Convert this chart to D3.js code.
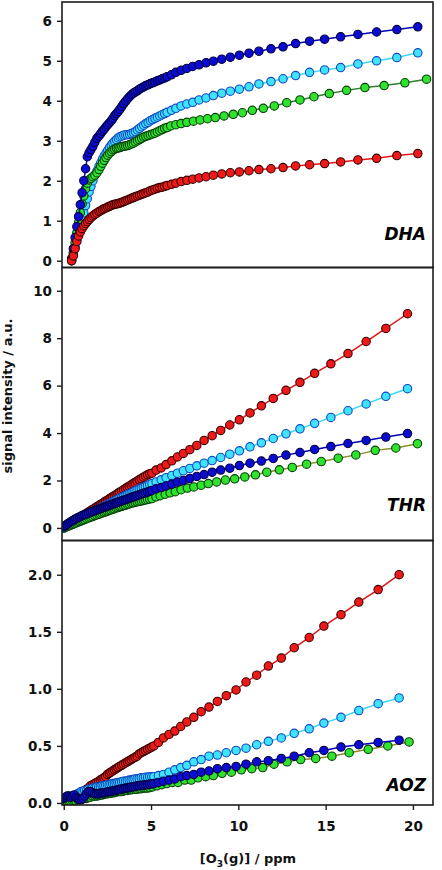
<!DOCTYPE html>
<html><head><meta charset="utf-8">
<script src="https://cdn.jsdelivr.net/npm/d3@7"></script>
<style>html,body{margin:0;padding:0;background:#fff;} svg{display:block;}</style>
</head><body>
<svg id="chart" width="442" height="870"></svg>
<script>
// ---------- DATA ----------
// DHA panel
const xDHA = [0.45,0.55,0.65,0.75,0.85,0.95,1.05,1.15,1.25,1.35,1.45,1.56,1.67,1.78,1.9,
  2.02,2.12,2.22,2.32,2.42,2.52,2.62,2.72,2.82,2.92,3.02,3.12,3.22,3.33,3.44,3.55,3.66,3.77,3.88,3.99,4.1,4.22,4.34,4.46,4.58,4.7,4.83,4.96,5.09,5.22,5.36,5.5,5.64,5.78,5.92,
  6.17,6.42,6.72,7.05,7.39,7.75,8.15,8.57,9.05,9.54,10.06,10.61,11.18,11.87,12.56,13.28,14.08,14.94,15.86,16.85,17.92,19.08,20.28];
const xDHAGreen = [0.45,0.55,0.65,0.75,0.85,0.95,1.05,1.15,1.25,1.35,1.45,1.56,1.67,1.78,1.9,
  2.02,2.12,2.22,2.32,2.42,2.52,2.62,2.72,2.82,2.92,3.02,3.12,3.22,3.33,3.44,3.55,3.66,3.77,3.88,3.99,4.1,4.22,4.34,4.46,4.58,4.7,4.83,4.96,5.09,5.22,5.36,5.5,5.64,5.78,5.92,
  6.13,6.42,6.72,7.05,7.43,7.81,8.23,8.68,9.18,9.71,10.23,10.8,11.43,12.06,12.77,13.53,14.33,15.21,16.2,17.25,18.35,19.54,20.78];
const dhaBlue = [0.05,0.3,0.58,0.85,1.1,1.4,1.7,2.0,2.3,2.6,2.7,2.78,2.86,2.96,3.06,
  3.12,3.18,3.24,3.29,3.35,3.4,3.45,3.5,3.56,3.63,3.68,3.73,3.79,3.86,3.93,3.99,4.05,4.1,4.15,4.19,4.22,4.25,4.29,4.32,4.35,4.38,4.4,4.43,4.45,4.47,4.5,4.52,4.55,4.57,4.6,
  4.65,4.71,4.76,4.81,4.86,4.9,4.95,4.99,5.04,5.09,5.14,5.19,5.24,5.3,5.35,5.43,5.49,5.54,5.6,5.66,5.72,5.78,5.85];
const dhaCyan = [0.0,0.18,0.35,0.52,0.68,0.86,1.02,1.2,1.38,1.55,1.72,1.86,2.0,2.14,2.24,
  2.36,2.45,2.54,2.62,2.69,2.76,2.83,2.89,2.94,2.99,3.03,3.07,3.1,3.12,3.14,3.15,3.15,3.16,3.18,3.2,3.23,3.27,3.31,3.35,3.39,3.43,3.46,3.5,3.53,3.56,3.59,3.62,3.65,3.68,3.71,
  3.76,3.81,3.87,3.92,3.96,4.02,4.07,4.13,4.19,4.24,4.29,4.35,4.42,4.48,4.55,4.63,4.71,4.77,4.83,4.92,5.0,5.08,5.2];
const dhaGreen = [0.0,0.2,0.45,0.7,0.95,1.2,1.42,1.62,1.8,1.94,2.02,2.06,2.1,2.14,2.2,
  2.28,2.36,2.44,2.51,2.58,2.64,2.69,2.73,2.77,2.79,2.81,2.82,2.83,2.85,2.86,2.87,2.88,2.9,2.92,2.94,2.97,3.0,3.03,3.06,3.09,3.11,3.13,3.15,3.17,3.19,3.22,3.25,3.28,3.31,3.33,
  3.37,3.4,3.43,3.46,3.49,3.52,3.55,3.58,3.62,3.66,3.7,3.76,3.81,3.87,3.95,4.02,4.1,4.18,4.26,4.33,4.38,4.45,4.54];
const dhaRed = [0.0,0.12,0.3,0.48,0.62,0.72,0.8,0.87,0.93,0.98,1.03,1.08,1.12,1.16,1.19,
  1.23,1.25,1.28,1.3,1.32,1.34,1.36,1.38,1.4,1.41,1.42,1.43,1.44,1.46,1.48,1.5,1.52,1.54,1.56,1.58,1.6,1.62,1.64,1.66,1.68,1.7,1.72,1.75,1.77,1.79,1.81,1.83,1.84,1.86,1.88,
  1.91,1.94,1.98,2.01,2.04,2.07,2.1,2.14,2.17,2.2,2.22,2.25,2.28,2.3,2.33,2.37,2.4,2.43,2.47,2.52,2.56,2.63,2.68];

// THR panel
const xTHR = [0,0.1,0.2,0.3,0.4,0.5,0.6,0.7,0.8,0.9,1.0,1.1,1.2,1.31,1.42,1.53,1.65,1.77,1.89,
  2.0,2.1,2.2,2.3,2.4,2.5,2.6,2.7,2.8,2.9,3.0,3.1,3.2,3.31,3.42,3.53,3.64,3.75,3.86,3.97,4.08,4.2,4.32,4.44,4.56,4.68,4.8,4.92,5.05,
  5.29,5.58,5.86,6.19,6.51,6.85,7.22,7.62,8.04,8.5,8.99,9.51,10.06,10.67,11.32,12.0,12.73,13.53,14.37,15.3,16.28,17.32,18.45,19.69];
const xTHRGreen = [0,0.1,0.2,0.3,0.4,0.5,0.6,0.7,0.8,0.9,1.0,1.1,1.2,1.31,1.42,1.53,1.65,1.77,1.89,
  2.0,2.1,2.2,2.3,2.4,2.5,2.6,2.7,2.8,2.9,3.0,3.1,3.2,3.31,3.42,3.53,3.64,3.75,3.86,3.97,4.08,4.2,4.32,4.44,4.56,4.68,4.8,4.92,5.05,
  5.28,5.52,5.81,6.09,6.39,6.72,7.08,7.45,7.87,8.28,8.76,9.26,9.79,10.37,10.98,11.63,12.35,13.09,13.91,14.75,15.72,16.73,17.84,19.02,20.26];
const thrRed = [0.0,0.05,0.09,0.14,0.19,0.24,0.28,0.33,0.38,0.42,0.47,0.52,0.56,0.62,0.67,0.72,0.78,0.83,0.89,
  0.94,0.99,1.03,1.08,1.13,1.17,1.22,1.27,1.31,1.36,1.41,1.46,1.5,1.55,1.61,1.66,1.71,1.76,1.81,1.87,1.92,1.97,2.03,2.08,2.14,2.19,2.24,2.28,2.31,
  2.44,2.53,2.67,2.83,2.99,3.14,3.3,3.48,3.69,3.89,4.11,4.34,4.56,4.85,5.15,5.46,5.8,6.14,6.52,6.92,7.35,7.86,8.41,9.03];
const thrCyan = [0.0,0.04,0.08,0.12,0.16,0.2,0.24,0.28,0.32,0.36,0.4,0.44,0.48,0.52,0.57,0.61,0.66,0.7,0.75,
  0.79,0.83,0.87,0.91,0.94,0.98,1.02,1.06,1.09,1.13,1.17,1.21,1.24,1.28,1.32,1.36,1.4,1.44,1.48,1.52,1.56,1.6,1.64,1.68,1.72,1.75,1.79,1.83,1.87,
  1.94,2.03,2.12,2.21,2.31,2.41,2.51,2.62,2.73,2.84,2.97,3.11,3.25,3.42,3.59,3.77,3.97,4.18,4.41,4.66,4.94,5.23,5.55,5.87];
const thrBlue = [0.05,0.1,0.16,0.21,0.26,0.3,0.35,0.39,0.43,0.46,0.5,0.53,0.56,0.59,0.62,0.66,0.69,0.72,0.76,
  0.79,0.81,0.84,0.87,0.89,0.92,0.95,0.98,1.0,1.03,1.06,1.08,1.11,1.14,1.17,1.19,1.22,1.25,1.28,1.31,1.34,1.37,1.4,1.43,1.46,1.48,1.51,1.55,1.58,
  1.65,1.7,1.77,1.85,1.93,2.0,2.08,2.17,2.25,2.35,2.44,2.52,2.63,2.73,2.82,2.93,3.07,3.18,3.31,3.43,3.56,3.69,3.83,3.98];
const thrGreen = [0.0,0.03,0.06,0.09,0.12,0.15,0.18,0.21,0.24,0.27,0.3,0.33,0.36,0.39,0.42,0.45,0.48,0.52,0.55,
  0.58,0.6,0.63,0.66,0.68,0.71,0.74,0.76,0.79,0.81,0.84,0.86,0.89,0.91,0.94,0.96,0.99,1.01,1.04,1.06,1.08,1.1,1.12,1.14,1.16,1.18,1.2,1.22,1.24,
  1.31,1.36,1.42,1.48,1.53,1.61,1.68,1.73,1.8,1.87,1.94,2.02,2.07,2.15,2.24,2.35,2.45,2.55,2.69,2.8,2.94,3.08,3.27,3.37,3.55];

// AOZ panel
const xAOZ = [0,0.1,0.2,0.3,0.4,0.5,0.6,0.7,0.8,0.9,1.0,1.1,1.2,1.31,1.42,1.53,1.65,1.77,1.89,
  2.0,2.1,2.2,2.3,2.4,2.5,2.6,2.7,2.8,2.9,3.0,3.1,3.2,3.31,3.42,3.53,3.64,3.75,3.86,3.97,4.08,4.2,4.32,4.44,4.56,4.68,4.8,4.92,5.04,
  5.16,5.42,5.71,6.03,6.36,6.7,7.05,7.45,7.87,8.32,8.8,9.31,9.87,10.44,11.05,11.72,12.46,13.2,14.06,14.9,15.88,16.9,18.01,19.21];
const xAOZGreen = [0,0.1,0.2,0.3,0.4,0.5,0.6,0.7,0.8,0.9,1.0,1.1,1.2,1.31,1.42,1.53,1.65,1.77,1.89,
  2.0,2.1,2.2,2.3,2.4,2.5,2.6,2.7,2.8,2.9,3.0,3.1,3.2,3.31,3.42,3.53,3.64,3.75,3.86,3.97,4.08,4.2,4.32,4.44,4.56,4.68,4.8,4.92,
  5.08,5.33,5.62,5.9,6.22,6.55,6.93,7.3,7.69,8.13,8.57,9.07,9.6,10.17,10.77,11.4,12.04,12.79,13.57,14.43,15.36,16.35,17.44,18.56,19.78];
const aozRed = [0.02,0.03,0.03,0.04,0.04,0.05,0.05,0.06,0.07,0.08,0.09,0.1,0.11,0.12,0.13,0.15,0.16,0.17,0.18,
  0.19,0.2,0.21,0.22,0.23,0.25,0.26,0.27,0.28,0.29,0.3,0.31,0.32,0.33,0.34,0.35,0.36,0.37,0.38,0.39,0.4,0.41,0.43,0.44,0.45,0.46,0.47,0.48,0.49,
  0.5,0.53,0.57,0.6,0.63,0.67,0.71,0.75,0.8,0.84,0.89,0.94,0.99,1.06,1.12,1.2,1.27,1.36,1.45,1.55,1.65,1.76,1.87,2.0];
const aozCyan = [0.03,0.03,0.04,0.04,0.05,0.05,0.06,0.07,0.08,0.09,0.1,0.1,0.11,0.11,0.12,0.12,0.13,0.13,0.14,
  0.14,0.145,0.15,0.15,0.155,0.16,0.16,0.165,0.17,0.17,0.175,0.18,0.18,0.185,0.19,0.19,0.195,0.2,0.2,0.205,0.21,0.21,0.215,0.22,0.22,0.225,0.225,0.23,0.23,
  0.23,0.24,0.25,0.27,0.29,0.31,0.33,0.36,0.38,0.41,0.42,0.44,0.46,0.48,0.51,0.54,0.57,0.61,0.65,0.7,0.75,0.81,0.87,0.92];
const aozBlue = [0.04,0.05,0.06,0.06,0.05,0.06,0.07,0.05,0.04,0.03,0.03,0.04,0.06,0.08,0.1,0.1,0.09,0.08,0.08,
  0.08,0.085,0.09,0.09,0.09,0.095,0.1,0.1,0.105,0.11,0.11,0.115,0.12,0.12,0.125,0.13,0.13,0.135,0.14,0.14,0.145,0.15,0.15,0.155,0.155,0.16,0.16,0.165,0.165,
  0.17,0.18,0.19,0.2,0.21,0.23,0.24,0.25,0.27,0.28,0.3,0.31,0.32,0.34,0.36,0.37,0.39,0.41,0.44,0.46,0.49,0.51,0.53,0.55];
const aozGreen = [0.0,0.0,0.01,0.01,0.01,0.02,0.02,0.02,0.03,0.03,0.03,0.04,0.04,0.04,0.05,0.05,0.06,0.06,0.06,
  0.065,0.07,0.07,0.075,0.08,0.08,0.085,0.085,0.09,0.09,0.095,0.1,0.1,0.1,0.105,0.11,0.11,0.115,0.115,0.12,0.12,0.12,0.125,0.125,0.13,0.13,0.13,0.135,
  0.14,0.15,0.16,0.17,0.18,0.18,0.2,0.2,0.22,0.23,0.24,0.26,0.27,0.29,0.3,0.31,0.34,0.36,0.38,0.39,0.41,0.44,0.47,0.5,0.535];

// ticks and labels
const xTickValues = [0, 5, 10, 15, 20];
const dhaTicks = [0, 1, 2, 3, 4, 5, 6];
const thrTicks = [0, 2, 4, 6, 8, 10];
const aozTicks = [0, 0.5, 1.0, 1.5, 2.0];
const panelNames = ["DHA", "THR", "AOZ"];
const yAxisTitle = "signal intensity / a.u.";

// ---------- STYLE / LAYOUT ----------
const FONT = "'DejaVu Sans', Verdana, sans-serif";
const left = 62, right = 433;
const styles = {
  red:   {fill: "#ee1a1a", stroke: "#3a0000", line: "#e31414"},
  cyan:  {fill: "#3fe2ff", stroke: "#1248c0", line: "#3fd8f2"},
  green: {fill: "#2ee22e", stroke: "#073f07", line: "#2f7f2f"},
  blue:  {fill: "#0b0bd2", stroke: "#000040", line: "#0000b4"}
};
const panels = [
  {name: panelNames[0], top: 2, bottom: 267.5, domain: [-0.17, 6.47], ticks: dhaTicks, fmt: d3.format("d"),
   labelY: 240, greenLine: "#2f7f2f",
   series: [["cyan", xDHA, dhaCyan], ["green", xDHAGreen, dhaGreen], ["blue", xDHA, dhaBlue], ["red", xDHA, dhaRed]]},
  {name: panelNames[1], top: 267.5, bottom: 540.5, domain: [-0.53, 10.98], ticks: thrTicks, fmt: d3.format("d"),
   labelY: 511, greenLine: "#8c8a2c",
   series: [["red", xTHR, thrRed], ["cyan", xTHR, thrCyan], ["green", xTHRGreen, thrGreen], ["blue", xTHR, thrBlue]]},
  {name: panelNames[2], top: 540.5, bottom: 805, domain: [-0.018, 2.30], ticks: aozTicks, fmt: d3.format(".1f"),
   labelY: 791, greenLine: "#8c8a2c",
   series: [["red", xAOZ, aozRed], ["cyan", xAOZ, aozCyan], ["green", xAOZGreen, aozGreen], ["blue", xAOZ, aozBlue]]}
];

const svg = d3.select("#chart");
const x = d3.scaleLinear().domain([-0.1, 21.15]).range([left, right]);

panels.forEach((p, pi) => {
  const y = d3.scaleLinear().domain(p.domain).range([p.bottom, p.top]);
  const g = svg.append("g");
  const clipId = "clip" + pi;
  svg.append("clipPath").attr("id", clipId).append("rect")
    .attr("x", left).attr("y", p.top).attr("width", right - left).attr("height", p.bottom - p.top);
  const plot = g.append("g").attr("clip-path", `url(#${clipId})`);

  p.series.forEach(([key, xs, ys]) => {
    if (xs.length !== ys.length) console.error("length mismatch", p.name, key, xs.length, ys.length);
    const st = styles[key];
    const n = Math.min(xs.length, ys.length);
    const pts = xs.slice(0, n).map((xv, i) => [xv, ys[i]]);
    plot.append("path").datum(pts)
      .attr("fill", "none")
      .attr("stroke", key === "green" ? p.greenLine : st.line)
      .attr("stroke-width", 1.5)
      .attr("d", d3.line().x(d => x(d[0])).y(d => y(d[1])));
    plot.append("g").selectAll("circle").data(pts).join("circle")
      .attr("cx", d => x(d[0])).attr("cy", d => y(d[1])).attr("r", 4.2)
      .attr("fill", st.fill).attr("stroke", st.stroke).attr("stroke-width", 1.1);
  });

  // frame
  g.append("rect").attr("x", left).attr("y", p.top).attr("width", right - left).attr("height", p.bottom - p.top)
    .attr("fill", "none").attr("stroke", "#1c1c1c").attr("stroke-width", 1.6);

  // y axis
  const ya = g.append("g").attr("transform", `translate(${left},0)`)
    .call(d3.axisLeft(y).tickValues(p.ticks).tickSize(5).tickPadding(5).tickFormat(p.fmt));
  ya.select(".domain").remove();
  ya.selectAll("line").attr("stroke", "#1c1c1c").attr("stroke-width", 1.4);
  ya.selectAll("text").attr("font-family", FONT).attr("font-weight", "bold").attr("font-size", 13.5).attr("fill", "#111");

  // panel label
  g.append("text").attr("x", 426).attr("y", p.labelY).attr("text-anchor", "end")
    .attr("font-family", FONT).attr("font-weight", "bold").attr("font-style", "italic")
    .attr("font-size", 17).attr("fill", "#000").text(p.name);

  if (pi === panels.length - 1) {
    const xa = g.append("g").attr("transform", `translate(0,${p.bottom})`)
      .call(d3.axisBottom(x).tickValues(xTickValues).tickSize(5).tickPadding(11).tickFormat(d3.format("d")));
    xa.select(".domain").remove();
    xa.selectAll("line").attr("stroke", "#1c1c1c").attr("stroke-width", 1.4);
    xa.selectAll("text").attr("font-family", FONT).attr("font-weight", "bold").attr("font-size", 13.5).attr("fill", "#111");
  }
});

// axis titles
svg.append("text").attr("transform", "translate(12,396) rotate(-90)").attr("text-anchor", "middle")
  .attr("font-family", FONT).attr("font-weight", "bold").attr("font-size", 13).attr("fill", "#111")
  .text(yAxisTitle);
const xt = svg.append("text").attr("x", 248).attr("y", 863).attr("text-anchor", "middle")
  .attr("font-family", FONT).attr("font-weight", "bold").attr("font-size", 13).attr("fill", "#111");
xt.append("tspan").text("[O");
xt.append("tspan").attr("font-size", 9).attr("dy", 4).text("3");
xt.append("tspan").attr("dy", -4).text("(g)] / ppm");
</script>
</body></html>
